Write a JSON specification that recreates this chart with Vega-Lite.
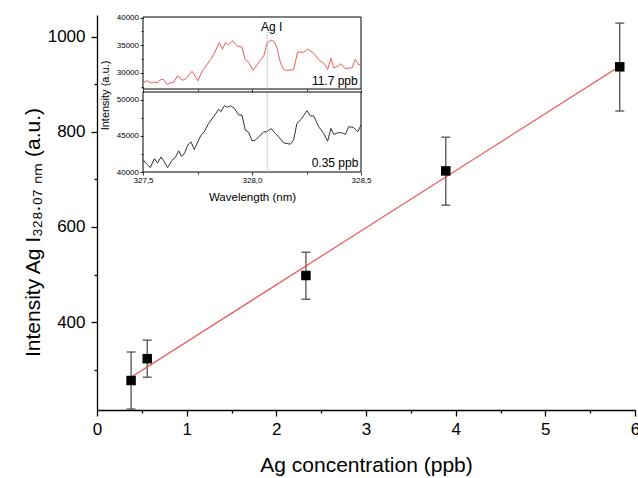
{
  "$schema": "https://vega.github.io/schema/vega-lite/v6.json",
  "width": 538,
  "height": 395,
  "autosize": {"type": "none"},
  "padding": {"left": 97, "top": 15, "right": 3, "bottom": 68},
  "background": "white",
  "config": {
    "view": {"stroke": null},
    "font": "Liberation Sans",
    "text": {"font": "Liberation Sans"},
    "axis": {"labelFont": "Liberation Sans", "titleFont": "Liberation Sans", "labelColor": "black", "titleColor": "black", "domainColor": "black", "tickColor": "black", "titleFontWeight": "normal", "grid": false, "labelBound": false, "labelOverlap": false, "labelFlush": false}
  },
  "datasets": {
    "points": [
      {"conc": 0.38, "inten": 277, "lo": 217, "hi": 337},
      {"conc": 0.56, "inten": 323, "lo": 284, "hi": 362},
      {"conc": 2.33, "inten": 498, "lo": 448, "hi": 547},
      {"conc": 3.89, "inten": 718, "lo": 646, "hi": 789},
      {"conc": 5.83, "inten": 937, "lo": 844, "hi": 1029}
    ],
    "fit": [
      {"conc": 0.38, "inten": 284},
      {"conc": 5.83, "inten": 938}
    ],
    "top": [
      {"wl": 327.500, "i": 28095}, {"wl": 327.518, "i": 28631}, {"wl": 327.534, "i": 28214}, {"wl": 327.549, "i": 28333},
      {"wl": 327.564, "i": 28214}, {"wl": 327.580, "i": 28750}, {"wl": 327.595, "i": 28810}, {"wl": 327.610, "i": 27917},
      {"wl": 327.625, "i": 28214}, {"wl": 327.641, "i": 28333}, {"wl": 327.659, "i": 29524}, {"wl": 327.679, "i": 28690},
      {"wl": 327.694, "i": 28810}, {"wl": 327.725, "i": 30298}, {"wl": 327.752, "i": 28571}, {"wl": 327.771, "i": 30298},
      {"wl": 327.809, "i": 32381}, {"wl": 327.824, "i": 33274}, {"wl": 327.850, "i": 35476}, {"wl": 327.865, "i": 34286},
      {"wl": 327.878, "i": 35476}, {"wl": 327.893, "i": 35060}, {"wl": 327.911, "i": 35833}, {"wl": 327.931, "i": 34881},
      {"wl": 327.954, "i": 34643}, {"wl": 327.969, "i": 32381}, {"wl": 327.985, "i": 31905}, {"wl": 328.005, "i": 30476},
      {"wl": 328.023, "i": 31488}, {"wl": 328.054, "i": 33095}, {"wl": 328.069, "i": 35357}, {"wl": 328.087, "i": 35952},
      {"wl": 328.102, "i": 35655}, {"wl": 328.115, "i": 34464}, {"wl": 328.130, "i": 31905}, {"wl": 328.145, "i": 30595},
      {"wl": 328.161, "i": 30476}, {"wl": 328.191, "i": 30595}, {"wl": 328.209, "i": 33750}, {"wl": 328.237, "i": 33750},
      {"wl": 328.255, "i": 34286}, {"wl": 328.283, "i": 33571}, {"wl": 328.306, "i": 32381}, {"wl": 328.332, "i": 31667},
      {"wl": 328.347, "i": 30595}, {"wl": 328.362, "i": 32679}, {"wl": 328.375, "i": 30893}, {"wl": 328.393, "i": 31190},
      {"wl": 328.408, "i": 31667}, {"wl": 328.428, "i": 30714}, {"wl": 328.443, "i": 30893}, {"wl": 328.459, "i": 30893},
      {"wl": 328.474, "i": 32500}, {"wl": 328.489, "i": 31488}, {"wl": 328.500, "i": 31488}
    ],
    "bottom": [
      {"wl": 327.500, "i": 41721}, {"wl": 327.518, "i": 41070}, {"wl": 327.534, "i": 40605}, {"wl": 327.552, "i": 41860},
      {"wl": 327.567, "i": 41256}, {"wl": 327.583, "i": 42093}, {"wl": 327.598, "i": 41395}, {"wl": 327.613, "i": 40605},
      {"wl": 327.633, "i": 41628}, {"wl": 327.648, "i": 42000}, {"wl": 327.664, "i": 42930}, {"wl": 327.676, "i": 42186},
      {"wl": 327.690, "i": 42558}, {"wl": 327.705, "i": 43721}, {"wl": 327.720, "i": 44186}, {"wl": 327.735, "i": 43116},
      {"wl": 327.766, "i": 45116}, {"wl": 327.781, "i": 45581}, {"wl": 327.801, "i": 46744}, {"wl": 327.824, "i": 47674},
      {"wl": 327.847, "i": 48698}, {"wl": 327.858, "i": 48372}, {"wl": 327.873, "i": 49209}, {"wl": 327.888, "i": 48977},
      {"wl": 327.901, "i": 49209}, {"wl": 327.919, "i": 48837}, {"wl": 327.939, "i": 47907}, {"wl": 327.954, "i": 47907},
      {"wl": 327.969, "i": 45814}, {"wl": 327.985, "i": 45488}, {"wl": 328.000, "i": 44326}, {"wl": 328.015, "i": 44419},
      {"wl": 328.035, "i": 44977}, {"wl": 328.054, "i": 45581}, {"wl": 328.069, "i": 45581}, {"wl": 328.087, "i": 46047},
      {"wl": 328.107, "i": 45349}, {"wl": 328.122, "i": 44884}, {"wl": 328.145, "i": 44047}, {"wl": 328.176, "i": 43860},
      {"wl": 328.191, "i": 44419}, {"wl": 328.206, "i": 46744}, {"wl": 328.225, "i": 47302}, {"wl": 328.252, "i": 48512},
      {"wl": 328.268, "i": 47767}, {"wl": 328.283, "i": 47767}, {"wl": 328.306, "i": 46279}, {"wl": 328.329, "i": 45349},
      {"wl": 328.347, "i": 44279}, {"wl": 328.362, "i": 46047}, {"wl": 328.375, "i": 45209}, {"wl": 328.393, "i": 45442},
      {"wl": 328.413, "i": 45442}, {"wl": 328.428, "i": 45209}, {"wl": 328.443, "i": 46279}, {"wl": 328.466, "i": 46186},
      {"wl": 328.485, "i": 45581}, {"wl": 328.500, "i": 46512}
    ]
  },
  "layer": [
    {
      "data": {"name": "points"},
      "mark": {"type": "rule", "color": "#444444", "strokeWidth": 1.2},
      "encoding": {
        "x": {"field": "conc", "type": "quantitative", "scale": {"domain": [0, 6], "nice": false, "zero": false},
          "axis": {"orient": "bottom", "values": [0, 1, 2, 3, 4, 5, 6], "format": "d",
            "tickSize": 6, "tickWidth": 1.3, "domainWidth": 1.3, "labelFontSize": 17, "labelPadding": 5,
            "title": "Ag concentration (ppb)", "titleFontSize": 21, "titleY": 55, "titleBaseline": "middle"}},
        "y": {"field": "lo", "type": "quantitative", "scale": {"domain": [215, 1046], "nice": false, "zero": false},
          "axis": {"orient": "left", "values": [400, 600, 800, 1000], "format": "d",
            "tickSize": 6, "tickWidth": 1.3, "domainWidth": 1.3, "labelFontSize": 17, "labelPadding": 6,
            "title": "Intensity Ag I₃₂₈.₀₇ ₙₘ (a.u.)", "titleFontSize": 21, "titleX": -64, "titleY": 217,
            "titleAngle": -90, "titleAlign": "center", "titleBaseline": "middle"}},
        "y2": {"field": "hi"}
      }
    },
    {
      "data": {"name": "points"},
      "mark": {"type": "tick", "orient": "horizontal", "size": 9, "thickness": 1.2, "color": "#444444", "opacity": 1},
      "encoding": {
        "x": {"field": "conc", "type": "quantitative", "scale": {"domain": [0, 6], "nice": false, "zero": false}, "axis": null},
        "y": {"field": "lo", "type": "quantitative", "scale": {"domain": [215, 1046], "nice": false, "zero": false}, "axis": null}
      }
    },
    {
      "data": {"name": "points"},
      "mark": {"type": "tick", "orient": "horizontal", "size": 9, "thickness": 1.2, "color": "#444444", "opacity": 1},
      "encoding": {
        "x": {"field": "conc", "type": "quantitative", "scale": {"domain": [0, 6], "nice": false, "zero": false}, "axis": null},
        "y": {"field": "hi", "type": "quantitative", "scale": {"domain": [215, 1046], "nice": false, "zero": false}, "axis": null}
      }
    },
    {
      "data": {"name": "fit"},
      "mark": {"type": "line", "color": "#f04848", "strokeWidth": 1.1},
      "encoding": {
        "x": {"field": "conc", "type": "quantitative", "scale": {"domain": [0, 6], "nice": false, "zero": false}, "axis": null},
        "y": {"field": "inten", "type": "quantitative", "scale": {"domain": [215, 1046], "nice": false, "zero": false}, "axis": null}
      }
    },
    {
      "data": {"name": "points"},
      "mark": {"type": "square", "size": 90, "color": "black", "opacity": 1},
      "encoding": {
        "x": {"field": "conc", "type": "quantitative", "scale": {"domain": [0, 6], "nice": false, "zero": false}, "axis": null},
        "y": {"field": "inten", "type": "quantitative", "scale": {"domain": [215, 1046], "nice": false, "zero": false}, "axis": null}
      }
    },
    {
      "data": {"values": [{}]},
      "mark": {"type": "point", "opacity": 0},
      "encoding": {
        "x": {"datum": 0, "type": "quantitative", "scale": {"domain": [0, 6], "nice": false, "zero": false},
          "axis": {"orient": "bottom", "values": [0.5, 1.5, 2.5, 3.5, 4.5, 5.5], "labels": false, "domain": false, "tickSize": 3, "tickWidth": 1.3, "title": null}},
        "y": {"datum": 300, "type": "quantitative", "scale": {"domain": [215, 1046], "nice": false, "zero": false},
          "axis": {"orient": "left", "values": [300, 500, 700, 900], "labels": false, "domain": false, "tickSize": 3, "tickWidth": 1.3, "title": null}}
      }
    },
    {
      "data": {"values": [{}]},
      "mark": {"type": "rect", "fill": "white", "stroke": "black", "strokeWidth": 1},
      "encoding": {
        "x": {"datum": 327.5, "type": "quantitative", "scale": {"domain": [327.5, 328.5], "range": [46, 264], "nice": false, "zero": false},
          "axis": {"orient": "bottom", "offset": -321, "values": [327.5, 328, 328.5], "labels": false, "domain": false, "zindex": 1,
            "tickSize": 3, "tickWidth": 0.8, "title": null}},
        "x2": {"datum": 328.5},
        "y": {"datum": 27100, "type": "quantitative", "scale": {"domain": [27100, 40100], "range": [74, 2], "nice": false, "zero": false},
          "axis": {"orient": "left", "offset": -46, "values": [30000, 35000, 40000], "domain": false, "format": "d", "zindex": 1,
            "tickSize": 3, "tickWidth": 0.8, "labelFontSize": 8, "labelPadding": 1.5, "title": null}},
        "y2": {"datum": 40100}
      }
    },
    {
      "data": {"name": "top"},
      "mark": {"type": "line", "color": "#f25a5a", "strokeWidth": 1},
      "encoding": {
        "x": {"field": "wl", "type": "quantitative", "scale": {"domain": [327.5, 328.5], "range": [46, 264], "nice": false, "zero": false}, "axis": null},
        "y": {"field": "i", "type": "quantitative", "scale": {"domain": [27100, 40100], "range": [74, 2], "nice": false, "zero": false}, "axis": null}
      }
    },
    {
      "data": {"values": [{}]},
      "mark": {"type": "rule", "color": "#9a9a9a", "strokeDash": [1, 1], "strokeWidth": 0.8},
      "encoding": {
        "x": {"datum": 328.07, "type": "quantitative", "scale": {"domain": [327.5, 328.5], "range": [46, 264], "nice": false, "zero": false}, "axis": null},
        "y": {"datum": 27100, "type": "quantitative", "scale": {"domain": [27100, 40100], "range": [74, 2], "nice": false, "zero": false}, "axis": null},
        "y2": {"datum": 37400}
      }
    },
    {
      "data": {"values": [{"label": "Ag I", "wl": 328.09, "i": 38300}]},
      "mark": {"type": "text", "fontSize": 12, "color": "black", "baseline": "middle", "align": "center"},
      "encoding": {
        "x": {"field": "wl", "type": "quantitative", "scale": {"domain": [327.5, 328.5], "range": [46, 264], "nice": false, "zero": false}, "axis": null},
        "y": {"field": "i", "type": "quantitative", "scale": {"domain": [27100, 40100], "range": [74, 2], "nice": false, "zero": false}, "axis": null},
        "text": {"field": "label"}
      }
    },
    {
      "data": {"values": [{"label": "11.7 ppb", "wl": 328.485, "i": 28460}]},
      "mark": {"type": "text", "fontSize": 12, "color": "black", "baseline": "middle", "align": "right"},
      "encoding": {
        "x": {"field": "wl", "type": "quantitative", "scale": {"domain": [327.5, 328.5], "range": [46, 264], "nice": false, "zero": false}, "axis": null},
        "y": {"field": "i", "type": "quantitative", "scale": {"domain": [27100, 40100], "range": [74, 2], "nice": false, "zero": false}, "axis": null},
        "text": {"field": "label"}
      }
    },
    {
      "data": {"values": [{}]},
      "mark": {"type": "point", "opacity": 0},
      "encoding": {
        "x": {"datum": 327.5, "type": "quantitative", "scale": {"domain": [327.5, 328.5], "range": [46, 264], "nice": false, "zero": false},
          "axis": {"orient": "bottom", "offset": -321, "values": [327.75, 328.25], "labels": false, "domain": false, "zindex": 1, "tickSize": 2, "tickWidth": 0.8, "title": null}},
        "y": {"datum": 30000, "type": "quantitative", "scale": {"domain": [27100, 40100], "range": [74, 2], "nice": false, "zero": false},
          "axis": {"orient": "left", "offset": -46, "values": [27500, 32500, 37500], "labels": false, "domain": false, "zindex": 1, "tickSize": 2, "tickWidth": 0.8, "title": null}}
      }
    },
    {
      "data": {"values": [{}]},
      "mark": {"type": "rect", "fill": "white", "stroke": "black", "strokeWidth": 1},
      "encoding": {
        "x": {"datum": 327.5, "type": "quantitative", "scale": {"domain": [327.5, 328.5], "range": [46, 264], "nice": false, "zero": false},
          "axis": {"orient": "bottom", "offset": -238, "values": [327.5, 328, 328.5], "domain": false, "zindex": 1,
            "labelExpr": "replace(format(datum.value, '.1f'), '.', ',')",
            "tickSize": 3, "tickWidth": 0.8, "labelFontSize": 8, "labelPadding": 1.5,
            "title": "Wavelength (nm)", "titleFontSize": 11.5, "titleY": 25, "titleBaseline": "middle"}},
        "x2": {"datum": 328.5},
        "y": {"datum": 40000, "type": "quantitative", "scale": {"domain": [40000, 51100], "range": [157, 77], "nice": false, "zero": false},
          "axis": {"orient": "left", "offset": -46, "values": [40000, 45000, 50000], "domain": false, "format": "d", "zindex": 1,
            "tickSize": 3, "tickWidth": 0.8, "labelFontSize": 8, "labelPadding": 1.5,
            "title": "Intensity (a.u.)", "titleFontSize": 11, "titleX": -38, "titleY": 80, "titleAngle": -90,
            "titleAlign": "center", "titleBaseline": "middle"}},
        "y2": {"datum": 51100}
      }
    },
    {
      "data": {"name": "bottom"},
      "mark": {"type": "line", "color": "#333333", "strokeWidth": 1},
      "encoding": {
        "x": {"field": "wl", "type": "quantitative", "scale": {"domain": [327.5, 328.5], "range": [46, 264], "nice": false, "zero": false}, "axis": null},
        "y": {"field": "i", "type": "quantitative", "scale": {"domain": [40000, 51100], "range": [157, 77], "nice": false, "zero": false}, "axis": null}
      }
    },
    {
      "data": {"values": [{}]},
      "mark": {"type": "rule", "color": "#9a9a9a", "strokeDash": [1, 1], "strokeWidth": 0.8},
      "encoding": {
        "x": {"datum": 328.07, "type": "quantitative", "scale": {"domain": [327.5, 328.5], "range": [46, 264], "nice": false, "zero": false}, "axis": null},
        "y": {"datum": 40000, "type": "quantitative", "scale": {"domain": [40000, 51100], "range": [157, 77], "nice": false, "zero": false}, "axis": null},
        "y2": {"datum": 51100}
      }
    },
    {
      "data": {"values": [{"label": "0.35 ppb", "wl": 328.488, "i": 41290}]},
      "mark": {"type": "text", "fontSize": 12, "color": "black", "baseline": "middle", "align": "right"},
      "encoding": {
        "x": {"field": "wl", "type": "quantitative", "scale": {"domain": [327.5, 328.5], "range": [46, 264], "nice": false, "zero": false}, "axis": null},
        "y": {"field": "i", "type": "quantitative", "scale": {"domain": [40000, 51100], "range": [157, 77], "nice": false, "zero": false}, "axis": null},
        "text": {"field": "label"}
      }
    },
    {
      "data": {"values": [{}]},
      "mark": {"type": "point", "opacity": 0},
      "encoding": {
        "x": {"datum": 327.5, "type": "quantitative", "scale": {"domain": [327.5, 328.5], "range": [46, 264], "nice": false, "zero": false},
          "axis": {"orient": "bottom", "offset": -238, "values": [327.75, 328.25], "labels": false, "domain": false, "zindex": 1, "tickSize": 2, "tickWidth": 0.8, "title": null}},
        "y": {"datum": 45000, "type": "quantitative", "scale": {"domain": [40000, 51100], "range": [157, 77], "nice": false, "zero": false},
          "axis": {"orient": "left", "offset": -46, "values": [42500, 47500], "labels": false, "domain": false, "zindex": 1, "tickSize": 2, "tickWidth": 0.8, "title": null}}
      }
    }
  ],
  "resolve": {"scale": {"x": "independent", "y": "independent"}, "axis": {"x": "independent", "y": "independent"}}
}
